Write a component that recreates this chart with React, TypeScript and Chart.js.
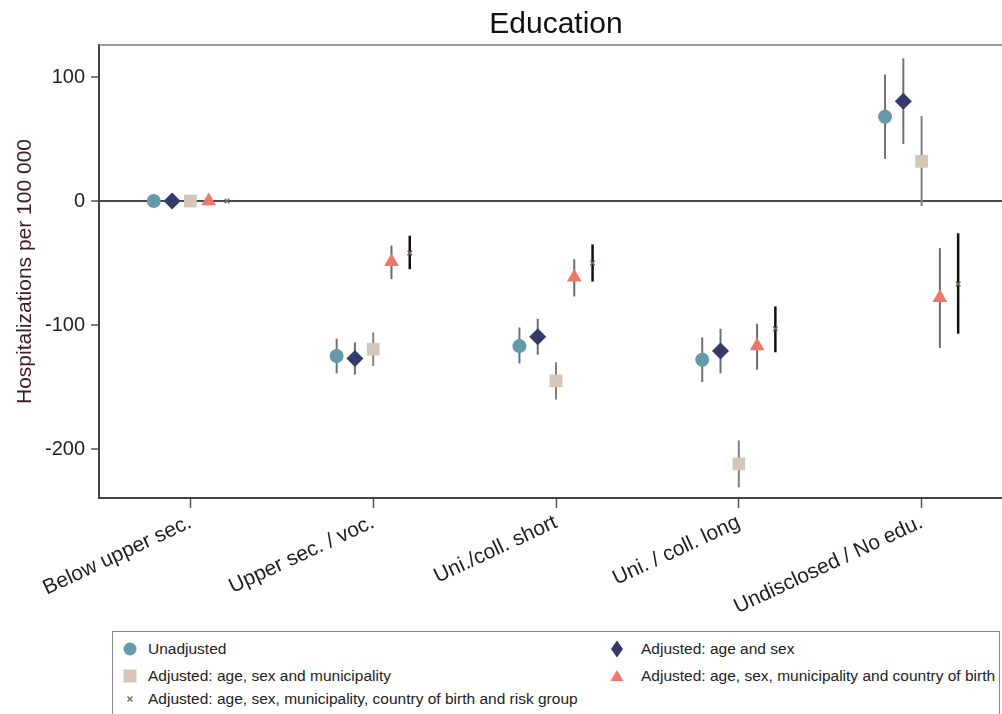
import React, { useEffect, useRef } from "react";
import { Chart, registerables } from "chart.js";

Chart.register(...registerables);

const categories = [
  "Below upper sec.",
  "Upper sec. / voc.",
  "Uni./coll. short",
  "Uni. / coll. long",
  "Undisclosed / No edu.",
];

const yTicks = [-200, -100, 0, 100];

const seriesNames = [
  "Unadjusted",
  "Adjusted: age and sex",
  "Adjusted: age, sex and municipality",
  "Adjusted: age, sex, municipality and country of birth",
  "Adjusted: age, sex, municipality, country of birth and risk group",
];

// Estimates and 95% CI bounds
const unadjusted = [0, -125, -117, -128, 68];
const unadjustedLow = [0, -139, -131, -146, 34];
const unadjustedHigh = [0, -111, -102, -110, 102];

const ageSex = [0, -127, -109.5, -121, 80.5];
const ageSexLow = [0, -140, -124, -139, 46];
const ageSexHigh = [0, -114, -95, -103, 115];

const ageSexMun = [0, -119.5, -145, -212, 32];
const ageSexMunLow = [0, -133, -160, -231, -4];
const ageSexMunHigh = [0, -106, -130, -193, 68.5];

const ageSexMunCob = [0, -49, -61.5, -117, -78];
const ageSexMunCobLow = [0, -63, -77, -136, -118.5];
const ageSexMunCobHigh = [0, -36, -47, -99, -38];

const fullAdj = [0, -42, -50, -103, -67];
const fullAdjLow = [0, -55, -65, -122, -107];
const fullAdjHigh = [0, -28, -35, -85, -26];

const offsets = [-0.2, -0.1, 0, 0.1, 0.2];
const colors = ["#6699aa", "#363a68", "#d4c7b9", "#ef7668", "#7d6a5e"];
const barColors = ["#707070", "#707070", "#808080", "#6a6a6a", "#111111"];
const barWidths = [2, 2, 2, 2, 2.5];
const pointStyles = ["circle", "rectRot", "rect", "triangle", "crossRot"];
const pointRadii = [7, 8.5, 9, 8.5, 3.2];

const estimates = [unadjusted, ageSex, ageSexMun, ageSexMunCob, fullAdj];
const lows = [unadjustedLow, ageSexLow, ageSexMunLow, ageSexMunCobLow, fullAdjLow];
const highs = [unadjustedHigh, ageSexHigh, ageSexMunHigh, ageSexMunCobHigh, fullAdjHigh];

const FONT = "'Liberation Sans', Arial, Helvetica, sans-serif";

const errorBarPlugin = {
  id: "errorBars",
  beforeDatasetsDraw(chart: any) {
    const { ctx } = chart;
    const xs = chart.scales.x;
    const ys = chart.scales.y;
    ctx.save();
    estimates.forEach((_, s) => {
      ctx.strokeStyle = barColors[s];
      ctx.lineWidth = barWidths[s];
      lows[s].forEach((lo, i) => {
        const hi = highs[s][i];
        if (lo === hi) return;
        const px = xs.getPixelForValue(i + offsets[s]);
        ctx.beginPath();
        ctx.moveTo(px, ys.getPixelForValue(lo));
        ctx.lineTo(px, ys.getPixelForValue(hi));
        ctx.stroke();
      });
    });
    ctx.restore();
  },
};

const framePlugin = {
  id: "frameAndTitle",
  afterDraw(chart: any) {
    const { ctx, chartArea } = chart;
    ctx.save();
    ctx.strokeStyle = "#7a7a7a";
    ctx.lineWidth = 1.5;
    ctx.beginPath();
    ctx.moveTo(chartArea.left, chartArea.top);
    ctx.lineTo(chartArea.right, chartArea.top);
    ctx.stroke();
    ctx.fillStyle = "#111111";
    ctx.font = `30px ${FONT}`;
    ctx.textAlign = "center";
    ctx.textBaseline = "middle";
    ctx.fillText("Education", (chartArea.left + chartArea.right) / 2, 25);
    ctx.restore();
  },
};

function Marker({ kind, color }: { kind: string; color: string }) {
  let shape: any = null;
  if (kind === "circle") shape = <circle cx="9" cy="9" r="6.5" fill={color} />;
  if (kind === "rect") shape = <rect x="2.5" y="2.5" width="13" height="13" fill={color} />;
  if (kind === "rectRot") shape = <polygon points="9,0.5 15,9 9,17.5 3,9" fill={color} />;
  if (kind === "triangle") shape = <polygon points="9,3 15.5,14 2.5,14" fill={color} />;
  if (kind === "crossRot")
    shape = (
      <g stroke={color} strokeWidth="1.5">
        <line x1="6.5" y1="6.5" x2="11.5" y2="11.5" />
        <line x1="11.5" y1="6.5" x2="6.5" y2="11.5" />
      </g>
    );
  return (
    <svg width="18" height="18" style={{ position: "absolute", left: -9, top: -9 }}>
      {shape}
    </svg>
  );
}

const legendPos = [
  { x: 17, y: 17, t: 18 },
  { x: 504, y: 17, t: 24 },
  { x: 17, y: 44, t: 18 },
  { x: 504, y: 44, t: 24 },
  { x: 17, y: 67, t: 18 },
];

export default function App() {
  const canvasRef = useRef<HTMLCanvasElement | null>(null);

  useEffect(() => {
    if (!canvasRef.current) return;
    const datasets = estimates.map((vals, s) => ({
      label: seriesNames[s],
      data: vals.map((v, i) => ({ x: i + offsets[s], y: v })),
      pointStyle: pointStyles[s] as any,
      pointRadius: pointRadii[s],
      backgroundColor: colors[s],
      borderColor: colors[s],
      borderWidth: s === 4 ? 1.5 : 0,
      showLine: false,
    }));

    const chart = new Chart(canvasRef.current, {
      type: "scatter",
      data: { datasets },
      plugins: [errorBarPlugin, framePlugin],
      options: {
        animation: false,
        responsive: false,
        maintainAspectRatio: false,
        layout: { padding: { top: 45, right: 11, left: 0, bottom: 0 } },
        plugins: {
          legend: { display: false },
          title: { display: false },
          tooltip: { enabled: false },
        },
        scales: {
          x: {
            type: "linear",
            min: -0.5,
            max: 4.5,
            afterBuildTicks: (scale: any) => {
              scale.ticks = categories.map((_, i) => ({ value: i }));
            },
            afterFit: (scale: any) => {
              scale.height = 216;
              scale.paddingRight = 0;
            },
            border: { display: true, color: "#444444", width: 2 },
            grid: {
              display: true,
              drawOnChartArea: false,
              drawTicks: true,
              tickLength: 10,
              tickColor: "#555555",
              tickWidth: 1.5,
            },
            ticks: {
              autoSkip: false,
              minRotation: 25,
              maxRotation: 25,
              padding: 2,
              color: "#1f1f1f",
              font: { family: FONT, size: 21 },
              callback: (v: any) => categories[Math.round(Number(v))] ?? "",
            },
          },
          y: {
            type: "linear",
            min: -239.5,
            max: 125.8,
            afterBuildTicks: (scale: any) => {
              scale.ticks = yTicks.map((v) => ({ value: v }));
            },
            afterFit: (scale: any) => {
              scale.width = 99;
            },
            border: { display: true, color: "#444444", width: 2 },
            grid: {
              display: true,
              drawOnChartArea: true,
              drawTicks: true,
              tickLength: 8,
              tickColor: "#555555",
              tickWidth: 1.5,
              lineWidth: 2,
              color: (ctx: any) =>
                ctx.tick && ctx.tick.value === 0 ? "#4a4a4a" : "rgba(0,0,0,0)",
            },
            ticks: {
              padding: 6,
              color: "#1f1f2a",
              font: { family: FONT, size: 20 },
              callback: (v: any) => String(v),
            },
            title: {
              display: true,
              text: "Hospitalizations per 100 000",
              color: "#3f1d26",
              font: { family: FONT, size: 21 },
              padding: { top: 13, bottom: 0 },
            },
          },
        },
      },
    });
    return () => chart.destroy();
  }, []);

  return (
    <div
      style={{
        position: "absolute",
        left: 0,
        top: 0,
        width: 1002,
        height: 714,
        overflow: "hidden",
        background: "#ffffff",
        fontFamily: FONT,
      }}
    >
      <canvas ref={canvasRef} width={1024} height={714} style={{ display: "block" }} />
      <div
        style={{
          position: "absolute",
          left: 112,
          top: 631,
          width: 888,
          height: 100,
          border: "1px solid #8a8a8a",
          background: "#ffffff",
          boxSizing: "border-box",
        }}
      >
        {legendPos.map((p, s) => (
          <div key={s} style={{ position: "absolute", left: p.x, top: p.y }}>
            <Marker kind={pointStyles[s]} color={colors[s]} />
            <span
              style={{
                position: "absolute",
                left: p.t,
                top: -10,
                whiteSpace: "nowrap",
                fontSize: 15.5,
                lineHeight: "20px",
                color: "#222222",
              }}
            >
              {seriesNames[s]}
            </span>
          </div>
        ))}
      </div>
    </div>
  );
}
